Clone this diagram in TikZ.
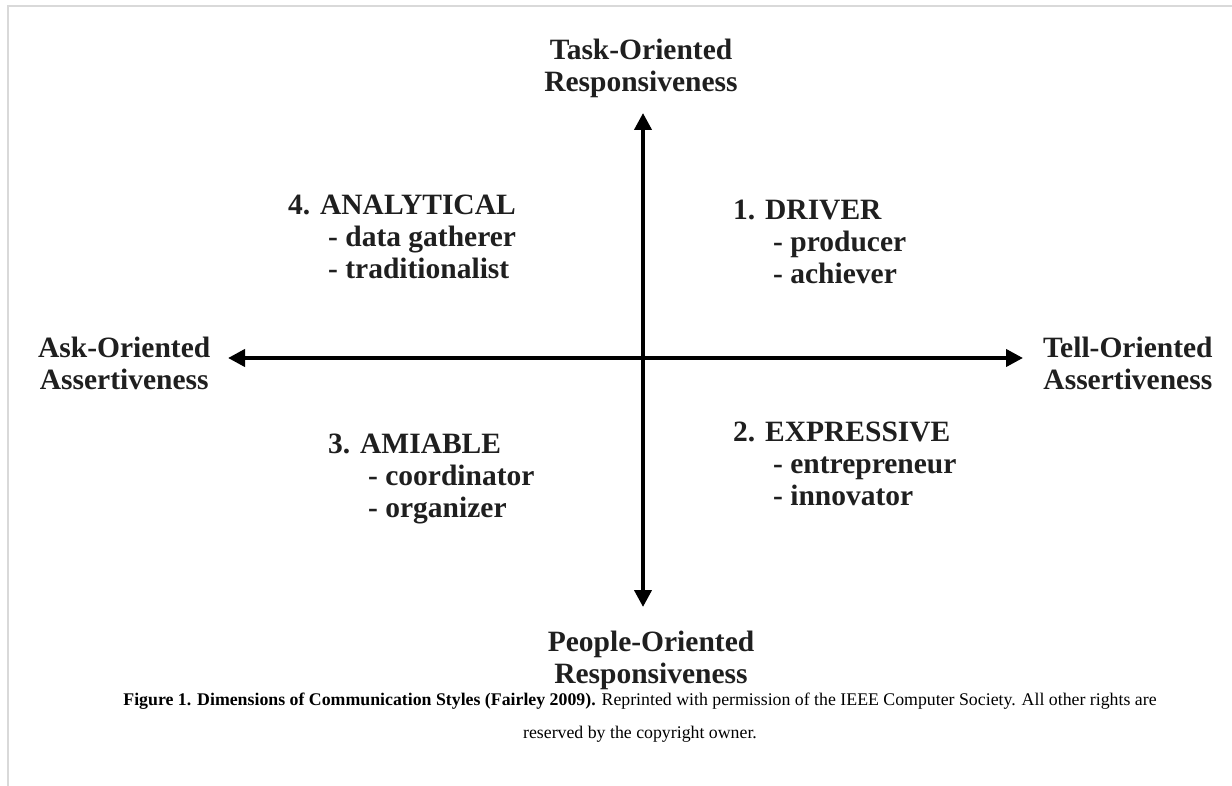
\documentclass[tikz,border=0pt]{standalone}
\usepackage{fontspec}
\setmainfont{Liberation Serif}
\usetikzlibrary{arrows.meta}

\begin{document}
\begin{tikzpicture}[x=1pt,y=-1pt,
  axis/.style={line width=4pt,{Triangle[length=17pt,width=17pt]}-{Triangle[length=17pt,width=17pt]}},
  lbl/.style={inner sep=0pt,font=\fontsize{29.5}{32}\selectfont\bfseries,text=black!88},
  dimlbl/.style={lbl,align=center,anchor=base},
  quad/.style={lbl,align=left,anchor=base west},
  capt/.style={inner sep=0pt,align=center,anchor=base,font=\fontsize{17.8}{33}\selectfont}]
\useasboundingbox (0,0) rectangle (1232,786);
% page frame
\draw[black!15,line width=2pt] (1232,6.5) -- (8,6.5) -- (8,786);

% the two axes
\coordinate (up) at (643,113);
\coordinate (down) at (643,607);
\coordinate (left) at (228,358);
\coordinate (right) at (1023,358);
\draw[axis] (down) -- (up);
\draw[axis] (left) -- (right);

\node[dimlbl] (task) at (641,92) {Task-Oriented\\Responsiveness};
\node[dimlbl] (people) at (651,683) {People-Oriented\\Responsiveness};
\node[dimlbl,anchor=base west] (ask) at (38,389) {Ask-Oriented\\Assertiveness};
\node[dimlbl,anchor=base west] (tell) at (1043,389) {Tell-Oriented\\Assertiveness};

% quadrants
\foreach \n/\x/\y/\t/\a/\b in %
{driver/733/284/1. DRIVER/producer/achiever,
 expressive/733/505/2. EXPRESSIVE/entrepreneur/innovator,
 amiable/328/517/3. AMIABLE/coordinator/organizer,
 analytical/288/279/4. ANALYTICAL/data gatherer/traditionalist} {
   \node[quad] (\n) at (\x,\y) {\t\\\hspace*{40pt}- \a\\\hspace*{40pt}- \b};
}

\node[capt] (caption) at (640,738) {\textbf{Figure 1. Dimensions of Communication Styles (Fairley 2009).} Reprinted with permission of the IEEE Computer Society. All other rights are\\reserved by the copyright owner.};
\end{tikzpicture}
\end{document}
